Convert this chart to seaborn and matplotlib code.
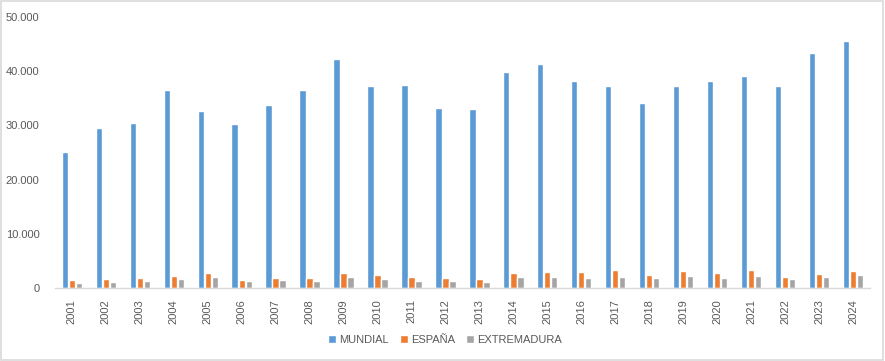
import matplotlib.pyplot as plt
from matplotlib.ticker import FuncFormatter
from matplotlib.patches import Rectangle
import seaborn as sns
import pandas as pd

# data
years = [str(y) for y in range(2001, 2025)]
mundial = [25100, 29600, 30500, 36600, 32600, 30300, 33800, 36600, 42300, 37300,
           37500, 33300, 33000, 39900, 41300, 38100, 37300, 34200, 37300, 38200,
           39100, 37200, 43400, 45600]
espana = [1530, 1650, 1780, 2270, 2820, 1530, 1780, 1780, 2700, 2330,
          1960, 1900, 1650, 2700, 2940, 2940, 3370, 2450, 3190, 2700,
          3250, 2090, 2580, 3070]
extremadura = [980, 1170, 1350, 1600, 1960, 1230, 1410, 1350, 1960, 1720,
               1350, 1350, 1100, 1960, 2090, 1840, 2090, 1840, 2210, 1780,
               2210, 1650, 1960, 2330]
series = ['MUNDIAL', 'ESPAÑA', 'EXTREMADURA']
colors = ['#5B9BD5', '#ED7D31', '#A5A5A5']

df = pd.DataFrame({
    'year': years * 3,
    'value': mundial + espana + extremadura,
    'serie': [s for s in series for _ in years],
})

sns.set_style("white")
plt.rcParams['font.family'] = ['Liberation Sans', 'DejaVu Sans']
text_col = '#595959'

fig = plt.figure(figsize=(8.85, 3.61), dpi=100)
ax = fig.add_axes([0.062, 0.202, 0.921, 0.751])

sns.barplot(data=df, x='year', y='value', hue='serie', palette=colors,
            width=0.62, gap=0.1, ax=ax, saturation=1)

ax.set_ylim(0, 50000)
ax.set_yticks(range(0, 50001, 10000))
ax.yaxis.set_major_formatter(FuncFormatter(lambda v, p: f'{int(v):,}'.replace(',', '.')))
ax.set_xlabel('')
ax.set_ylabel('')
ax.tick_params(axis='y', length=0, pad=11, labelsize=8, labelcolor=text_col)
ax.tick_params(axis='x', length=0, pad=8, labelsize=8, labelcolor=text_col, rotation=90)

for side in ['top', 'right', 'left']:
    ax.spines[side].set_visible(False)
ax.spines['bottom'].set_color('#D9D9D9')
ax.spines['bottom'].set_linewidth(1)

ax.legend(loc='center', bbox_to_anchor=(0.503, 0.058), bbox_transform=fig.transFigure,
          ncol=3, frameon=False, fontsize=8, labelcolor=text_col,
          handlelength=0.7, handleheight=0.7, handletextpad=0.3, columnspacing=1.0)

# light border around the whole chart
fig.patches.append(Rectangle((0.001, 0.002), 0.997, 0.995, transform=fig.transFigure,
                             fill=False, edgecolor='#D9D9D9', linewidth=1.2))

fig.savefig('out.png', dpi=100)
